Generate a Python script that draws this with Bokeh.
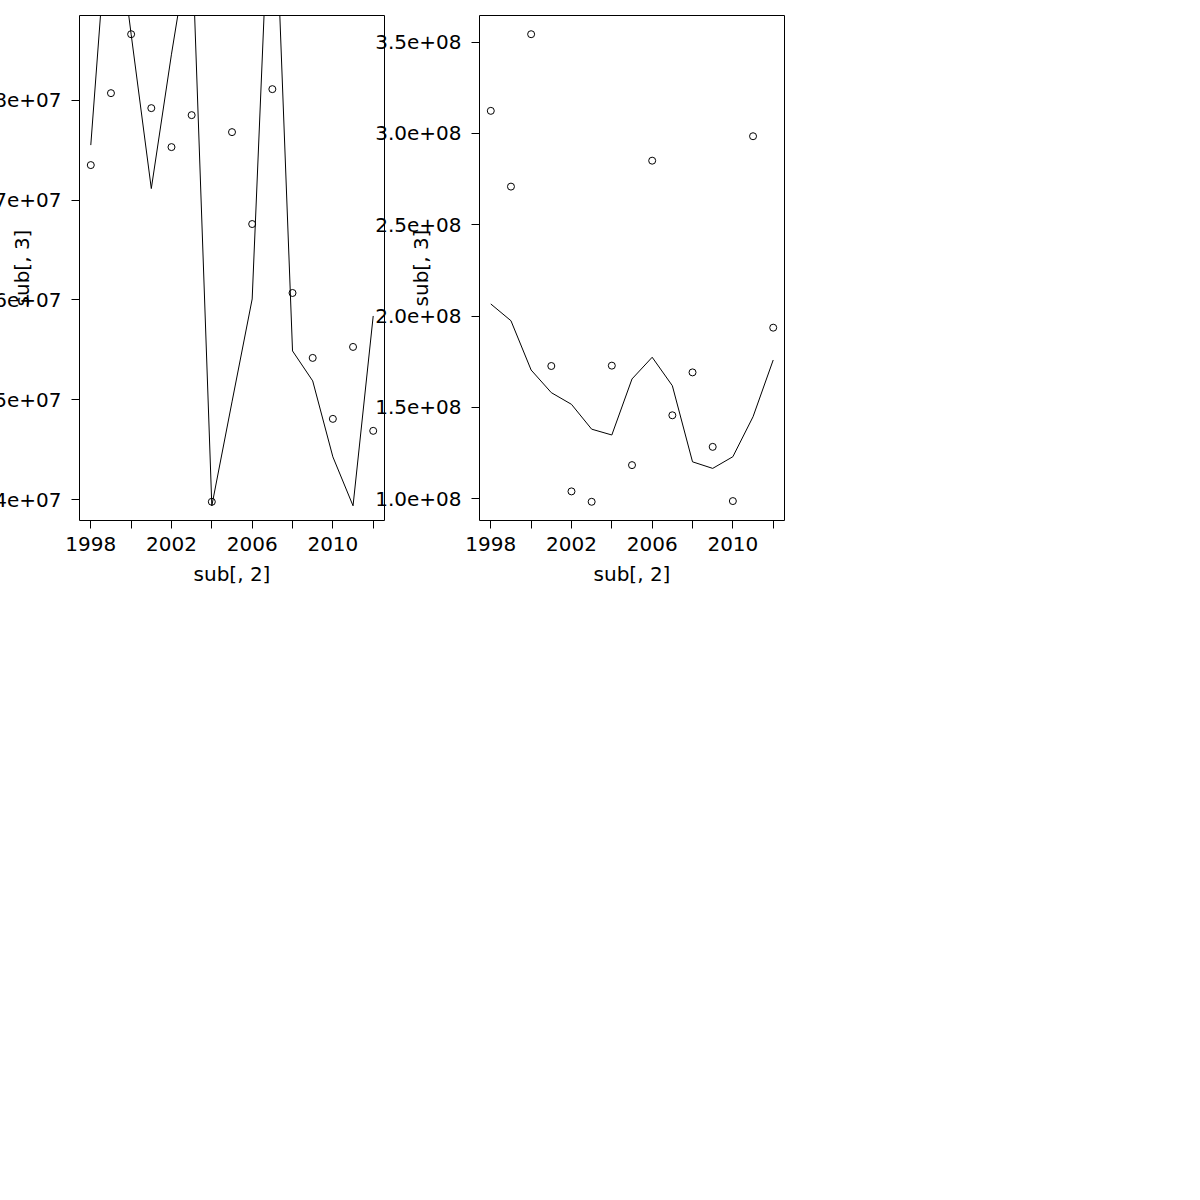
from bokeh.plotting import figure
from bokeh.layouts import row
from bokeh.models import FixedTicker, Range1d
from bokeh.embed import file_html
from bokeh.resources import INLINE

# ---- data ----
years = [1998, 1999, 2000, 2001, 2002, 2003, 2004, 2005, 2006, 2007, 2008, 2009, 2010, 2011, 2012]

left_points = [7.35e7, 8.07e7, 8.66e7, 7.92e7, 7.53e7, 7.85e7, 3.98e7, 7.68e7,
               6.76e7, 8.11e7, 6.07e7, 5.42e7, 4.81e7, 5.53e7, 4.69e7]
left_line = [7.55e7, 1.025e8, 8.66e7, 7.115e7, 8.46e7, 9.70e7, 3.94e7, 4.98e7,
             6.01e7, 1.083e8, 5.49e7, 5.19e7, 4.43e7, 3.94e7, 5.84e7]

right_points = [3.124e8, 2.709e8, 3.544e8, 1.726e8, 1.039e8, 0.982e8, 1.728e8, 1.183e8,
                2.851e8, 1.456e8, 1.691e8, 1.283e8, 0.986e8, 2.985e8, 1.936e8]
right_line = [2.066e8, 1.974e8, 1.704e8, 1.580e8, 1.516e8, 1.380e8, 1.348e8, 1.655e8,
              1.774e8, 1.618e8, 1.201e8, 1.165e8, 1.229e8, 1.448e8, 1.759e8]

x_ticks = [1998, 2000, 2002, 2004, 2006, 2008, 2010, 2012]
x_tick_labels = ["1998", "", "2002", "", "2006", "", "2010", ""]

left_y_ticks = [4e7, 5e7, 6e7, 7e7, 8e7]
left_y_labels = ["4e+07", "5e+07", "6e+07", "7e+07", "8e+07"]

right_y_ticks = [1.0e8, 1.5e8, 2.0e8, 2.5e8, 3.0e8, 3.5e8]
right_y_labels = ["1.0e+08", "1.5e+08", "2.0e+08", "2.5e+08", "3.0e+08", "3.5e+08"]

x_label = "sub[, 2]"
y_label = "sub[, 3]"

FONT = "DejaVu Sans"
FSIZE = "20px"


def padded(vals):
    lo, hi = min(vals), max(vals)
    d = 0.04 * (hi - lo)
    return Range1d(lo - d, hi + d)


def panel(points, line, yticks, ylabels, width, border_left, ylab_standoff, margin):
    p = figure(width=width, height=600, output_backend="svg", toolbar_location=None,
               x_range=padded(years), y_range=padded(points),
               min_border_left=border_left, min_border_right=16,
               min_border_top=15, min_border_bottom=80, margin=margin)
    p.background_fill_alpha = 0
    p.border_fill_alpha = 0
    p.outline_line_color = "black"
    p.outline_line_width = 1
    p.outline_line_alpha = 1
    p.grid.visible = False

    p.line(years, line, line_color="black", line_width=1)
    p.scatter(years, points, marker="circle", size=7, fill_color=None,
              line_color="black", line_width=1)

    for ax in (p.xaxis[0], p.yaxis[0]):
        ax.axis_line_color = None
        ax.major_tick_line_color = "black"
        ax.major_tick_out = 8
        ax.major_tick_in = 0
        ax.minor_tick_out = 0
        ax.minor_tick_in = 0
        ax.major_label_text_font = FONT
        ax.major_label_text_font_size = FSIZE
        ax.major_label_text_color = "black"
        ax.axis_label_text_font = FONT
        ax.axis_label_text_font_size = FSIZE
        ax.axis_label_text_font_style = "normal"
        ax.axis_label_text_color = "black"

    xa = p.xaxis[0]
    xa.ticker = FixedTicker(ticks=x_ticks)
    xa.major_label_overrides = dict(zip(x_ticks, x_tick_labels))
    xa.major_label_standoff = 8
    xa.axis_label = x_label
    xa.axis_label_standoff = 8

    ya = p.yaxis[0]
    ya.ticker = FixedTicker(ticks=yticks)
    ya.major_label_overrides = dict(zip(yticks, ylabels))
    ya.major_label_orientation = "horizontal"
    ya.major_label_standoff = 10
    ya.axis_label = y_label
    ya.axis_label_standoff = ylab_standoff
    return p


p1 = panel(left_points, left_line, left_y_ticks, left_y_labels,
           width=420, border_left=99, ylab_standoff=-43, margin=(0, 0, 0, -20))
p2 = panel(right_points, right_line, right_y_ticks, right_y_labels,
           width=430, border_left=109, ylab_standoff=-61, margin=(0, 0, 0, -30))

layout = row(p1, p2)
open("out.html", "w").write(file_html(layout, INLINE))
